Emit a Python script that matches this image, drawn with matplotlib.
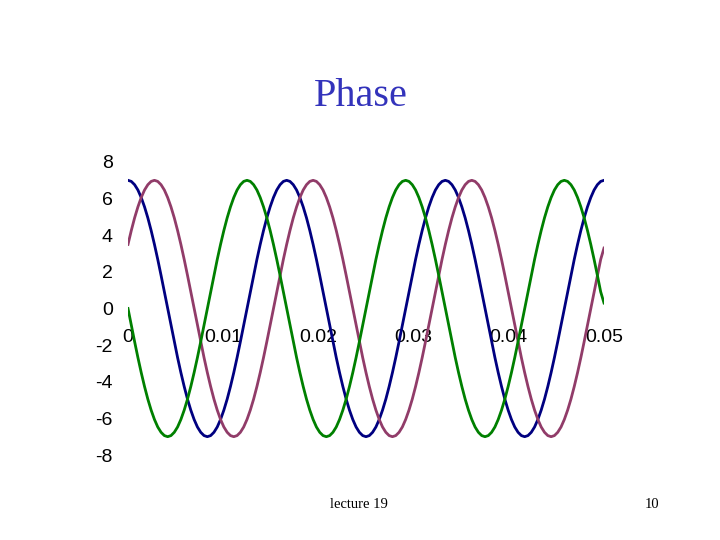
import numpy as np
import matplotlib
matplotlib.use("Agg")
import matplotlib.pyplot as plt

# time axis (s), samples every 1/48 of a 60 Hz period
t = np.linspace(0, 0.05, 145)

# values (amplitude 7)
blue = [
    7, 6.94, 6.76, 6.47, 6.06, 5.55, 4.95, 4.26, 3.5, 2.68, 1.81, 0.91, 0, -0.91, -1.81, -2.68, -3.5, -4.26, -4.95, -5.55, -6.06, -6.47, -6.76, -6.94,
    -7, -6.94, -6.76, -6.47, -6.06, -5.55, -4.95, -4.26, -3.5, -2.68, -1.81, -0.91, 0, 0.91, 1.81, 2.68, 3.5, 4.26, 4.95, 5.55, 6.06, 6.47, 6.76, 6.94,
    7, 6.94, 6.76, 6.47, 6.06, 5.55, 4.95, 4.26, 3.5, 2.68, 1.81, 0.91, 0, -0.91, -1.81, -2.68, -3.5, -4.26, -4.95, -5.55, -6.06, -6.47, -6.76, -6.94,
    -7, -6.94, -6.76, -6.47, -6.06, -5.55, -4.95, -4.26, -3.5, -2.68, -1.81, -0.91, 0, 0.91, 1.81, 2.68, 3.5, 4.26, 4.95, 5.55, 6.06, 6.47, 6.76, 6.94,
    7, 6.94, 6.76, 6.47, 6.06, 5.55, 4.95, 4.26, 3.5, 2.68, 1.81, 0.91, 0, -0.91, -1.81, -2.68, -3.5, -4.26, -4.95, -5.55, -6.06, -6.47, -6.76, -6.94,
    -7, -6.94, -6.76, -6.47, -6.06, -5.55, -4.95, -4.26, -3.5, -2.68, -1.81, -0.91, 0, 0.91, 1.81, 2.68, 3.5, 4.26, 4.95, 5.55, 6.06, 6.47, 6.76, 6.94,
    7,
]
green = [
    0, -0.91, -1.81, -2.68, -3.5, -4.26, -4.95, -5.55, -6.06, -6.47, -6.76, -6.94, -7, -6.94, -6.76, -6.47, -6.06, -5.55, -4.95, -4.26, -3.5, -2.68, -1.81, -0.91,
    0, 0.91, 1.81, 2.68, 3.5, 4.26, 4.95, 5.55, 6.06, 6.47, 6.76, 6.94, 7, 6.94, 6.76, 6.47, 6.06, 5.55, 4.95, 4.26, 3.5, 2.68, 1.81, 0.91,
    0, -0.91, -1.81, -2.68, -3.5, -4.26, -4.95, -5.55, -6.06, -6.47, -6.76, -6.94, -7, -6.94, -6.76, -6.47, -6.06, -5.55, -4.95, -4.26, -3.5, -2.68, -1.81, -0.91,
    0, 0.91, 1.81, 2.68, 3.5, 4.26, 4.95, 5.55, 6.06, 6.47, 6.76, 6.94, 7, 6.94, 6.76, 6.47, 6.06, 5.55, 4.95, 4.26, 3.5, 2.68, 1.81, 0.91,
    0, -0.91, -1.81, -2.68, -3.5, -4.26, -4.95, -5.55, -6.06, -6.47, -6.76, -6.94, -7, -6.94, -6.76, -6.47, -6.06, -5.55, -4.95, -4.26, -3.5, -2.68, -1.81, -0.91,
    0, 0.91, 1.81, 2.68, 3.5, 4.26, 4.95, 5.55, 6.06, 6.47, 6.76, 6.94, 7, 6.94, 6.76, 6.47, 6.06, 5.55, 4.95, 4.26, 3.5, 2.68, 1.81, 0.91,
    0.3,
]
purple = [
    3.5, 4.26, 4.95, 5.55, 6.06, 6.47, 6.76, 6.94, 7, 6.94, 6.76, 6.47, 6.06, 5.55, 4.95, 4.26, 3.5, 2.68, 1.81, 0.91, 0, -0.91, -1.81, -2.68,
    -3.5, -4.26, -4.95, -5.55, -6.06, -6.47, -6.76, -6.94, -7, -6.94, -6.76, -6.47, -6.06, -5.55, -4.95, -4.26, -3.5, -2.68, -1.81, -0.91, 0, 0.91, 1.81, 2.68,
    3.5, 4.26, 4.95, 5.55, 6.06, 6.47, 6.76, 6.94, 7, 6.94, 6.76, 6.47, 6.06, 5.55, 4.95, 4.26, 3.5, 2.68, 1.81, 0.91, 0, -0.91, -1.81, -2.68,
    -3.5, -4.26, -4.95, -5.55, -6.06, -6.47, -6.76, -6.94, -7, -6.94, -6.76, -6.47, -6.06, -5.55, -4.95, -4.26, -3.5, -2.68, -1.81, -0.91, 0, 0.91, 1.81, 2.68,
    3.5, 4.26, 4.95, 5.55, 6.06, 6.47, 6.76, 6.94, 7, 6.94, 6.76, 6.47, 6.06, 5.55, 4.95, 4.26, 3.5, 2.68, 1.81, 0.91, 0, -0.91, -1.81, -2.68,
    -3.5, -4.26, -4.95, -5.55, -6.06, -6.47, -6.76, -6.94, -7, -6.94, -6.76, -6.47, -6.06, -5.55, -4.95, -4.26, -3.5, -2.68, -1.81, -0.91, 0, 0.91, 1.81, 2.68,
    3.3,
]

xticks = [0, 0.01, 0.02, 0.03, 0.04, 0.05]
xlabels = ["0", "0.01", "0.02", "0.03", "0.04", "0.05"]
yticks = [8, 6, 4, 2, 0, -2, -4, -6, -8]

fig = plt.figure(figsize=(7.2, 5.4), dpi=100)
ax = fig.add_axes([128 / 720, 1 - 455 / 540, 476 / 720, 293 / 540])

ax.plot(t, blue, color="#000080", lw=2.0)
ax.plot(t, purple, color="#913C69", lw=2.0)
ax.plot(t, green, color="#008000", lw=2.0)

ax.set_xlim(0, 0.05)
ax.set_ylim(-8, 8)
ax.set_xticks(xticks)
ax.set_xticklabels(xlabels)
ax.set_yticks(yticks)
ax.set_yticklabels([str(v) for v in yticks])

for s in ax.spines.values():
    s.set_visible(False)
ax.spines["bottom"].set_position(("data", 0))
ax.tick_params(axis="both", length=0, labelsize=14)
ax.tick_params(axis="x", pad=15)
ax.tick_params(axis="y", pad=11)
for lab in ax.get_xticklabels() + ax.get_yticklabels():
    lab.set_family("Liberation Sans")
ax.set_axisbelow(True)

fig.text(361 / 720, 1 - 97 / 540, "Phase", fontsize=29, family="Liberation Serif",
         color="#3333BB", ha="center", va="center")
fig.text(359 / 720, 1 - 504 / 540, "lecture 19", fontsize=10.5,
         family="Liberation Serif", ha="center", va="center")
fig.text(652 / 720, 1 - 504 / 540, "10", fontsize=10.5,
         family="Liberation Serif", ha="center", va="center")

fig.savefig("out.png", dpi=100)
